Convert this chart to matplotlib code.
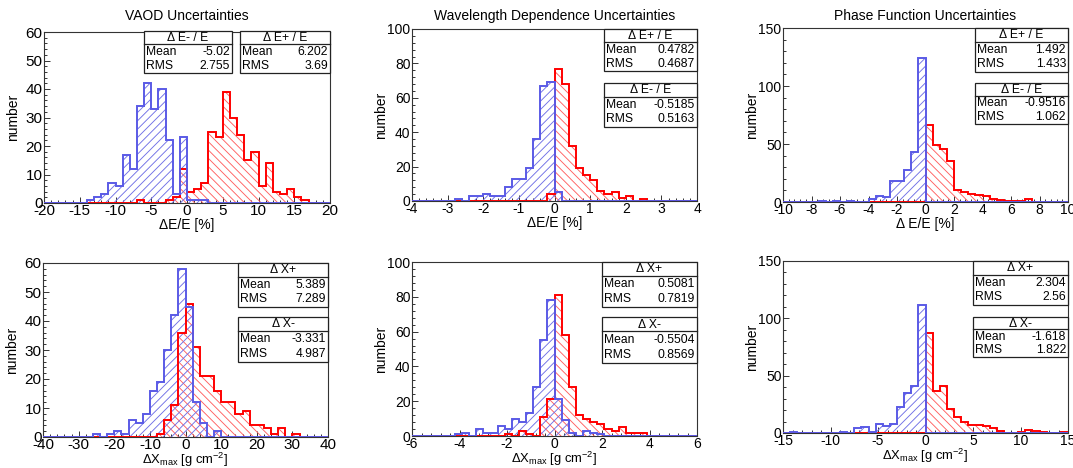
import numpy as np
import matplotlib
matplotlib.use("Agg")
import matplotlib.pyplot as plt
from matplotlib.ticker import MultipleLocator, FuncFormatter
from matplotlib.patches import Rectangle
from matplotlib.lines import Line2D

plt.rcParams['font.family'] = ['Liberation Sans', 'DejaVu Sans']
plt.rcParams['mathtext.fontset'] = 'custom'
plt.rcParams['mathtext.rm'] = 'Liberation Sans'
plt.rcParams['mathtext.it'] = 'Liberation Sans:italic'
plt.rcParams['axes.unicode_minus'] = False
plt.rcParams['hatch.linewidth'] = 0.65

# ---------------- data ----------------
# x ranges (lo, hi) of the 40-bin histograms
xrange_vaod_e = (-20, 20)
xrange_wave_e = (-4, 4)
xrange_phase_e = (-10, 10)
xrange_vaod_x = (-40, 40)
xrange_wave_x = (-6, 6)
xrange_phase_x = (-15, 15)

# VAOD dE/E
vaod_e_minus = [0, 0, 0, 0, 0, 0, 1, 2, 3, 7, 6, 17, 12, 34, 42, 33, 40, 22, 3, 23,
                1, 1, 1, 0, 0, 0, 0, 0, 0, 0, 0, 0, 0, 0, 0, 0, 0, 0, 0, 0]
vaod_e_plus = [0, 0, 0, 0, 0, 0, 0, 0, 0, 0, 0, 0, 0, 1, 0, 0, 0, 1, 2, 12,
               4, 5, 7, 25, 23, 39, 30, 24, 15, 18, 6, 14, 4, 3, 5, 2, 1, 0, 0, 0]
# Wavelength dependence dE/E
wave_e_minus = [0, 0, 0, 0, 0, 0, 1, 0, 3, 3, 4, 3, 3, 8, 13, 13, 19, 36, 67, 69,
                5, 0, 0, 0, 0, 0, 0, 0, 0, 0, 0, 0, 0, 0, 0, 0, 0, 0, 0, 0]
wave_e_plus = [0, 0, 0, 0, 0, 0, 0, 0, 0, 0, 0, 0, 0, 0, 0, 0, 0, 0, 0, 4,
               77, 68, 32, 19, 15, 12, 6, 4, 5, 2, 3, 0, 1, 0, 0, 0, 0, 0, 0, 0]
# Phase function dE/E
phase_e_minus = [0, 0, 0, 0, 0, 1, 0, 1, 0, 1, 0, 0, 3, 5, 4, 18, 18, 28, 43, 124,
                 0, 0, 0, 0, 0, 0, 0, 0, 0, 0, 0, 0, 0, 0, 0, 0, 0, 0, 0, 0]
phase_e_plus = [0, 0, 0, 0, 0, 0, 0, 0, 0, 0, 0, 0, 0, 0, 0, 0, 0, 0, 0, 0,
                66, 49, 46, 35, 10, 9, 7, 6, 5, 3, 2, 1, 1, 1, 3, 0, 0, 0, 0, 0]
# VAOD dXmax
vaod_x_minus = [0, 0, 0, 0, 0, 0, 0, 1, 0, 1, 2, 1, 6, 5, 8, 16, 19, 30, 42, 58,
                45, 12, 5, 0, 2, 0, 0, 0, 0, 0, 0, 0, 0, 0, 0, 0, 0, 0, 0, 0]
vaod_x_plus = [0, 0, 0, 0, 0, 0, 0, 0, 0, 0, 0, 0, 0, 0, 0, 0, 1, 6, 11, 36,
               46, 31, 21, 21, 16, 12, 12, 8, 9, 4, 4, 3, 1, 3, 0, 1, 0, 0, 0, 0]
# Wavelength dependence dXmax
wave_x_minus = [0, 0, 0, 0, 0, 0, 1, 2, 0, 4, 2, 2, 6, 4, 10, 8, 13, 28, 55, 78,
                21, 9, 2, 0, 3, 2, 1, 0, 0, 0, 0, 0, 0, 0, 0, 0, 0, 0, 0, 0]
wave_x_plus = [0, 0, 0, 0, 0, 0, 0, 0, 0, 0, 0, 0, 0, 1, 0, 3, 1, 0, 11, 21,
               81, 58, 28, 12, 10, 8, 7, 4, 3, 5, 2, 2, 2, 0, 0, 0, 0, 0, 0, 0]
# Phase function dXmax
phase_x_minus = [0, 1, 0, 0, 0, 0, 0, 0, 1, 0, 4, 5, 1, 8, 6, 8, 23, 35, 41, 112,
                 0, 0, 0, 0, 0, 0, 0, 0, 0, 0, 0, 0, 0, 0, 0, 0, 0, 0, 0, 0]
phase_x_plus = [0, 0, 0, 0, 0, 0, 0, 0, 0, 0, 0, 0, 0, 0, 0, 0, 0, 0, 0, 0,
                87, 37, 41, 21, 14, 10, 7, 7, 6, 4, 2, 0, 0, 1, 3, 2, 1, 0, 0, 1]

titles = ["VAOD Uncertainties", "Wavelength Dependence Uncertainties",
          "Phase Function Uncertainties", "", "", ""]
xlabels = ["\u0394E/E [%]", "\u0394E/E [%]", "\u0394 E/E [%]",
           "\u0394X$_{\\mathrm{max}}$ [g cm$^{-2}$]",
           "\u0394X$_{\\mathrm{max}}$ [g cm$^{-2}$]",
           "\u0394X$_{\\mathrm{max}}$ [g cm$^{-2}$]"]
ymaxes = [60, 100, 150, 60, 100, 150]

# stat box labels: (title, mean, rms)
stats_vaod_e = [("\u0394 E- / E", "-5.02", "2.755"), ("\u0394 E+ / E", "6.202", "3.69")]
stats_wave_e = [("\u0394 E+ / E", "0.4782", "0.4687"), ("\u0394 E- / E", "-0.5185", "0.5163")]
stats_phase_e = [("\u0394 E+ / E", "1.492", "1.433"), ("\u0394 E- / E", "-0.9516", "1.062")]
stats_vaod_x = [("\u0394 X+", "5.389", "7.289"), ("\u0394 X-", "-3.331", "4.987")]
stats_wave_x = [("\u0394 X+", "0.5081", "0.7819"), ("\u0394 X-", "-0.5504", "0.8569")]
stats_phase_x = [("\u0394 X+", "2.304", "2.56"), ("\u0394 X-", "-1.618", "1.822")]

# ---------------- layout ----------------
W, H = 1073, 468
fig = plt.figure(figsize=(W / 100, H / 100), dpi=100)

# axes frames in pixels: left, top, right, bottom
frames = [(44, 32, 330, 203), (412, 29, 697, 201), (783, 28, 1068, 202),
          (43, 263, 328, 437), (412, 262, 697, 436), (783, 261, 1068, 433)]
# stat boxes in pixels: (x0, y0, x1, y1) for the two boxes of each panel
boxes = [[(144, 31, 232, 73), (240, 31, 330, 73)],
         [(604, 29, 697, 71), (604, 83, 697, 127)],
         [(975, 28, 1068, 72), (975, 83, 1068, 124)],
         [(238, 263, 328, 307), (238, 317, 328, 362)],
         [(602, 262, 697, 307), (602, 317, 697, 363)],
         [(973, 261, 1068, 305), (973, 317, 1068, 357)]]
ticks = [(5, 1, 10, 2), (1, 0.2, 20, 4), (2, 0.4, 50, 10),
         (10, 2, 10, 2), (2, 0.4, 20, 4), (5, 1, 50, 10)]
ticksize = [11, 10, 10, 11, 10, 10]
xlabelpad = [-0.5, -0.5, -0.5, -1.0, -1.0, -1.0]
xlabelsize = [10, 10, 10, 9.4, 9.4, 9.4]

panels = [(xrange_vaod_e, vaod_e_minus, vaod_e_plus, stats_vaod_e),
          (xrange_wave_e, wave_e_minus, wave_e_plus, stats_wave_e),
          (xrange_phase_e, phase_e_minus, phase_e_plus, stats_phase_e),
          (xrange_vaod_x, vaod_x_minus, vaod_x_plus, stats_vaod_x),
          (xrange_wave_x, wave_x_minus, wave_x_plus, stats_wave_x),
          (xrange_phase_x, phase_x_minus, phase_x_plus, stats_phase_x)]

BLUE = '#5a5ae6'
BLUE_H = '#7070e6'
RED = '#ff0000'
RED_H = '#ff6060'

fx = lambda x: x / W
fy = lambda y: 1 - y / H


def statbox(x0, y0, x1, y1, title, mean, rms):
    rect = Rectangle((fx(x0), fy(y1)), fx(x1) - fx(x0), fy(y0) - fy(y1),
                     transform=fig.transFigure, facecolor='white',
                     edgecolor='#222222', lw=0.9, zorder=10)
    fig.add_artist(rect)
    h = y1 - y0
    ty = y0 + h * 0.31
    fig.add_artist(Line2D([fx(x0), fx(x1)], [fy(ty), fy(ty)],
                          transform=fig.transFigure, color='#222222', lw=0.9, zorder=11))
    fs = 8.7
    fig.text(fx((x0 + x1) / 2), fy((y0 + ty) / 2 + 0.5), title, ha='center', va='center',
             fontsize=fs, zorder=12)
    r1 = ty + (y1 - ty) * 0.27
    r2 = ty + (y1 - ty) * 0.75
    fig.text(fx(x0 + 2), fy(r1), "Mean", ha='left', va='center', fontsize=fs, zorder=12)
    fig.text(fx(x1 - 2), fy(r1), mean, ha='right', va='center', fontsize=fs, zorder=12)
    fig.text(fx(x0 + 2), fy(r2), "RMS", ha='left', va='center', fontsize=fs, zorder=12)
    fig.text(fx(x1 - 2), fy(r2), rms, ha='right', va='center', fontsize=fs, zorder=12)


fmt = FuncFormatter(lambda v, p: "%g" % (round(v, 6)))

for i, (xr, minus, plus, st) in enumerate(panels):
    l, t, r, b = frames[i]
    ax = fig.add_axes([fx(l), fy(b), fx(r) - fx(l), fy(t) - fy(b)])
    edges = np.linspace(xr[0], xr[1], len(minus) + 1)
    ax.stairs(plus, edges, fill=True, facecolor='none', edgecolor=RED_H,
              hatch='\\\\\\\\', linewidth=0, zorder=2)
    ax.stairs(minus, edges, fill=True, facecolor='none', edgecolor=BLUE_H,
              hatch='////', linewidth=0, zorder=2)
    ax.stairs(plus, edges, fill=False, color=RED, linewidth=1.4, zorder=3)
    ax.stairs(minus, edges, fill=False, color=BLUE, linewidth=1.4, zorder=4)
    ax.set_xlim(xr)
    ax.set_ylim(0, ymaxes[i])
    mx, mnx, my, mny = ticks[i]
    ax.xaxis.set_major_locator(MultipleLocator(mx))
    ax.xaxis.set_minor_locator(MultipleLocator(mnx))
    ax.yaxis.set_major_locator(MultipleLocator(my))
    ax.yaxis.set_minor_locator(MultipleLocator(mny))
    ax.xaxis.set_major_formatter(fmt)
    ax.yaxis.set_major_formatter(fmt)
    ax.tick_params(which='both', direction='in', top=False, right=False,
                   labelsize=ticksize[i], pad=1.0, width=0.7, color='#333333')
    ax.tick_params(which='major', length=4.3)
    ax.tick_params(which='minor', length=2.2)
    for s in ax.spines.values():
        s.set_linewidth(0.8)
        s.set_color('#333333')
    ax.set_xlabel(xlabels[i], fontsize=xlabelsize[i], labelpad=xlabelpad[i])
    ax.set_ylabel("number", fontsize=10, va='center')
    ax.yaxis.set_label_coords(-0.108, 0.5)
    if titles[i]:
        fig.text(fx((l + r) / 2), fy(16), titles[i], ha='center', va='center', fontsize=10)
    for (bx, (tt, mn, rm)) in zip(boxes[i], st):
        statbox(*bx, tt, mn, rm)

fig.savefig("out.png", dpi=100)
